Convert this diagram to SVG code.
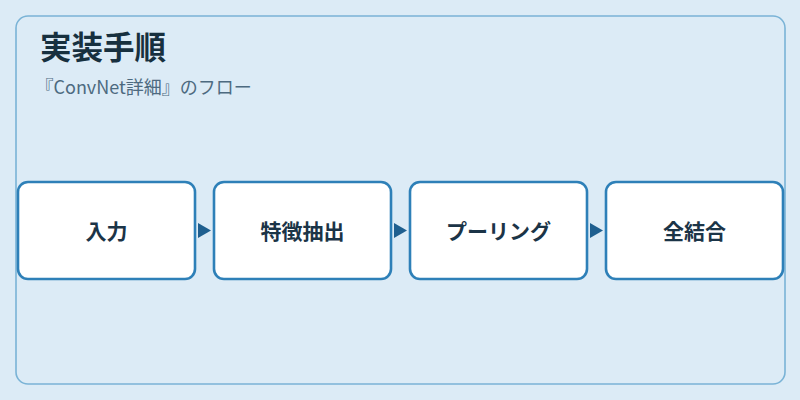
<svg xmlns="http://www.w3.org/2000/svg" width="800" height="400" viewBox="0 0 800 400">
<style>
.node rect{fill:#ffffff;stroke:#2e80b8;stroke-width:2.6}
.node text{font-family:"Noto Sans CJK JP","Noto Sans",sans-serif;font-size:21px;font-weight:bold;fill:#1b3447;text-anchor:middle}
.title{font-family:"Noto Sans CJK JP","Noto Sans",sans-serif;font-size:31.5px;font-weight:bold;fill:#17303f}
.sub{font-family:"Noto Sans CJK JP","Noto Sans",sans-serif;font-size:18px;fill:#4d6a80}
.arrowhead{fill:#1f5f8f}
</style>
<rect x="0" y="0" width="800" height="400" fill="#dcebf6"/>
<rect id="panel" x="16" y="16" width="769" height="368" rx="12" fill="#dcebf6" stroke="#7ab3d6" stroke-width="1.6"/>
<text class="title" x="40" y="59">実装手順</text>
<text class="sub" x="35.5" y="94">『ConvNet詳細』のフロー</text>
<g id="connectors">
<path class="arrowhead" d="M198,223 L211,230.5 L198,238 Z"/>
<path class="arrowhead" d="M394,223 L407,230.5 L394,238 Z"/>
<path class="arrowhead" d="M590,223 L603,230.5 L590,238 Z"/>
</g>
<g id="node1" class="node"><rect x="18" y="182" width="177" height="97" rx="10"/><text x="106.5" y="239">入力</text></g>
<g id="node2" class="node"><rect x="214" y="182" width="177" height="97" rx="10"/><text x="302.5" y="239">特徴抽出</text></g>
<g id="node3" class="node"><rect x="410" y="182" width="177" height="97" rx="10"/><text x="498.5" y="239">プーリング</text></g>
<g id="node4" class="node"><rect x="606" y="182" width="177" height="97" rx="10"/><text x="694.5" y="239">全結合</text></g>
</svg>
